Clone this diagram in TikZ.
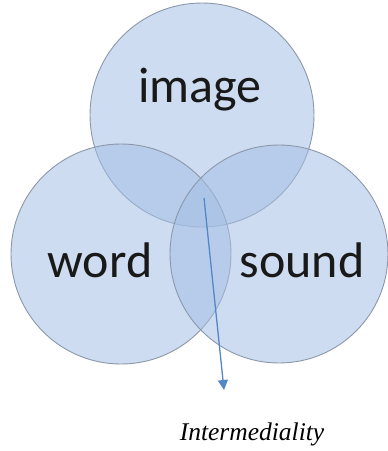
\documentclass[tikz,border=0pt]{standalone}
\usepackage{fontspec}
\setmainfont{Carlito}
\newfontfamily\serifit{Liberation Serif}
\usetikzlibrary{arrows.meta}
\definecolor{circfill}{RGB}{164,191,228}
\definecolor{circedge}{RGB}{140,152,170}
\definecolor{arrowblue}{RGB}{85,135,200}
\tikzset{
  venn/.style={circle, draw=circedge, line width=0.9pt, fill=circfill, fill opacity=0.55, draw opacity=1, inner sep=0pt},
  lbl/.style={anchor=base, font=\fontsize{50}{56}\selectfont, text=black!90, inner sep=0pt},
}
\begin{document}
\begin{tikzpicture}[x=1pt,y=-1pt]
\useasboundingbox (0,0) rectangle (388,451);
\node[venn, minimum size=224pt] (top) at (202,115) {};
\node[venn, minimum size=220pt] (left) at (121,254) {};
\node[venn, minimum size=218pt] (right) at (279,254) {};
\node[lbl] (image) at (200,102) {image};
\node[lbl] (word) at (100,277) {word};
\node[lbl] (sound) at (302,277) {sound};
\coordinate (start) at (204,198);
\node[anchor=base, inner sep=0pt, font=\serifit\itshape\fontsize{25.5}{30}\selectfont] (inter) at (252,440) {Intermediality};
\coordinate (tip) at (224,390);
\draw[arrowblue, line width=1.3pt, -{Triangle[length=10pt,width=10pt]}] (start) -- (tip);
\end{tikzpicture}
\end{document}
